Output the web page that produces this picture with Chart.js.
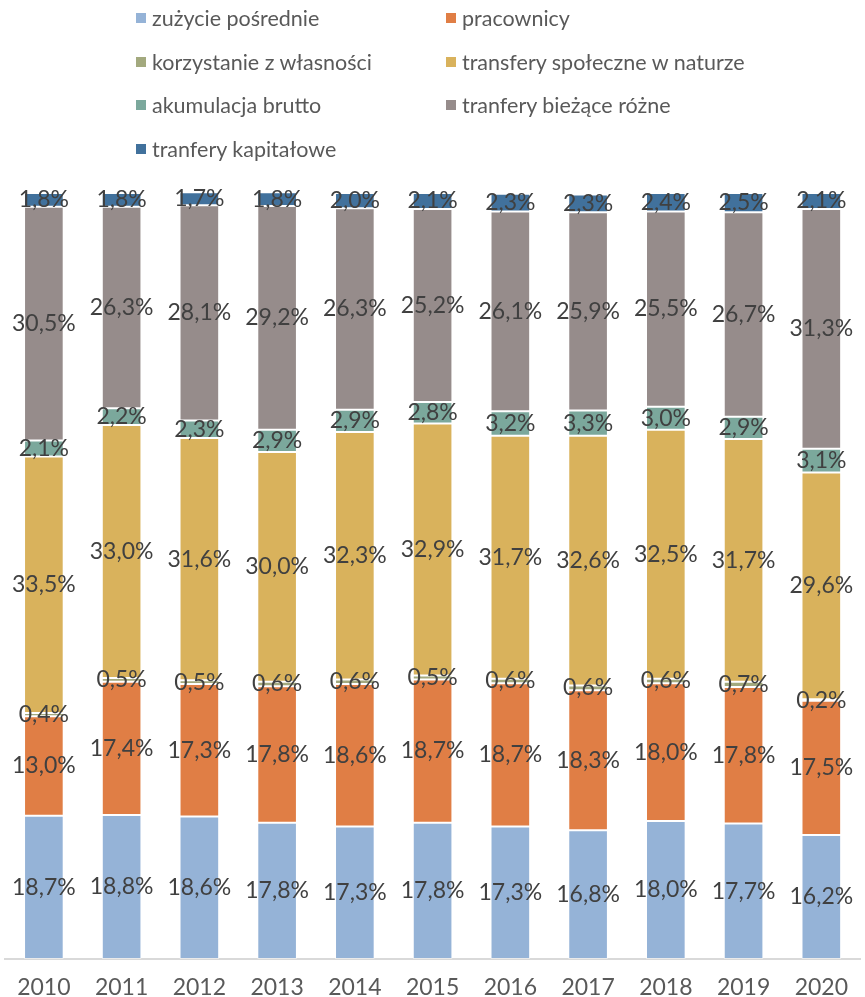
<!DOCTYPE html>
<html lang="pl">
<head>
  <meta charset="UTF-8">
  <title>Struktura wydatków</title>
  <style>
    * { margin: 0; padding: 0; box-sizing: border-box; }
    body { background: #fff; width: 865px; height: 997px; overflow: hidden; font-family: 'Lato', sans-serif; }
    .wrap { position: relative; width: 865px; height: 997px; overflow: hidden; }
    #chart { position: absolute; left: 0; top: 0; }
    .legend { position: absolute; left: 0; top: 0; width: 865px; height: 170px; }
    .legend-item { position: absolute; display: flex; align-items: center; color: #595959; font-size: 21.5px; white-space: nowrap; }
    .legend-item span.box { width: 10px; height: 10px; margin-right: 6px; }
  </style>
</head>
<body>
  <div class="wrap">
    <canvas id="chart" width="865" height="1016"></canvas>
    <div class="legend" id="legend"></div>
  </div>

  <script src="https://cdn.jsdelivr.net/npm/chart.js@4.4.1/dist/chart.umd.min.js"></script>
  <script>
    const years = ['2010', '2011', '2012', '2013', '2014', '2015', '2016', '2017', '2018', '2019', '2020'];

    const seriesNames = [
      'zużycie pośrednie',
      'pracownicy',
      'korzystanie z własności',
      'transfery społeczne w naturze',
      'akumulacja brutto',
      'tranfery bieżące różne',
      'tranfery kapitałowe'
    ];

    const zuzycie     = [18.7, 18.8, 18.6, 17.8, 17.3, 17.8, 17.3, 16.8, 18.0, 17.7, 16.2];
    const pracownicy  = [13.0, 17.4, 17.3, 17.8, 18.6, 18.7, 18.7, 18.3, 18.0, 17.8, 17.5];
    const wlasnosc    = [0.4, 0.5, 0.5, 0.6, 0.6, 0.5, 0.6, 0.6, 0.6, 0.7, 0.2];
    const transfery   = [33.5, 33.0, 31.6, 30.0, 32.3, 32.9, 31.7, 32.6, 32.5, 31.7, 29.6];
    const akumulacja  = [2.1, 2.2, 2.3, 2.9, 2.9, 2.8, 3.2, 3.3, 3.0, 2.9, 3.1];
    const biezace     = [30.5, 26.3, 28.1, 29.2, 26.3, 25.2, 26.1, 25.9, 25.5, 26.7, 31.3];
    const kapitalowe  = [1.8, 1.8, 1.7, 1.8, 2.0, 2.1, 2.3, 2.3, 2.4, 2.5, 2.1];

    const colors = ['#95b3d7', '#e07e45', '#a3a97e', '#d9b25c', '#7ba89c', '#968c8b', '#41719c'];
    const allSeries = [zuzycie, pracownicy, wlasnosc, transfery, akumulacja, biezace, kapitalowe];

    // legend: two columns, like the Excel layout
    const legendEl = document.getElementById('legend');
    seriesNames.forEach((name, i) => {
      const item = document.createElement('div');
      item.className = 'legend-item';
      const col = i % 2, row = Math.floor(i / 2);
      item.style.left = (col === 0 ? 136 : 446) + 'px';
      item.style.top = (5 + row * 43.5) + 'px';
      item.innerHTML = `<span class="box" style="background:${colors[i]}"></span>${name}`;
      legendEl.appendChild(item);
    });

    // value labels centred in every segment
    const segmentLabels = {
      id: 'segmentLabels',
      afterDatasetsDraw(chart) {
        const ctx = chart.ctx;
        ctx.save();
        ctx.font = '23px Lato';
        ctx.fillStyle = '#404040';
        ctx.textAlign = 'center';
        ctx.textBaseline = 'middle';
        chart.data.datasets.forEach((ds, di) => {
          chart.getDatasetMeta(di).data.forEach((bar, i) => {
            const v = ds.data[i];
            const y = (bar.y + bar.base) / 2;
            ctx.fillText(v.toFixed(1).replace('.', ',') + '%', bar.x, y);
          });
        });
        ctx.restore();
      }
    };

    new Chart(document.getElementById('chart'), {
      type: 'bar',
      data: {
        labels: years,
        datasets: allSeries.map((data, i) => ({
          label: seriesNames[i],
          data,
          backgroundColor: colors[i],
          borderColor: 'rgba(255,255,255,0.45)',
          borderWidth: 1,
          borderSkipped: false,
          categoryPercentage: 1,
          barPercentage: 0.51
        }))
      },
      options: {
        responsive: false,
        animation: false,
        layout: { padding: { top: 193, left: 5, right: 0, bottom: 0 } },
        plugins: { legend: { display: false }, tooltip: { enabled: false } },
        scales: {
          x: {
            stacked: true,
            grid: { display: false, drawTicks: false },
            border: { display: true, color: '#d9d9d9', width: 2 },
            ticks: { color: '#595959', font: { family: 'Lato', size: 23, lineHeight: 1 }, padding: 17 }
          },
          y: {
            stacked: true,
            display: false,
            min: 0,
            max: 100
          }
        }
      },
      plugins: [segmentLabels]
    });
  </script>
</body>
</html>
